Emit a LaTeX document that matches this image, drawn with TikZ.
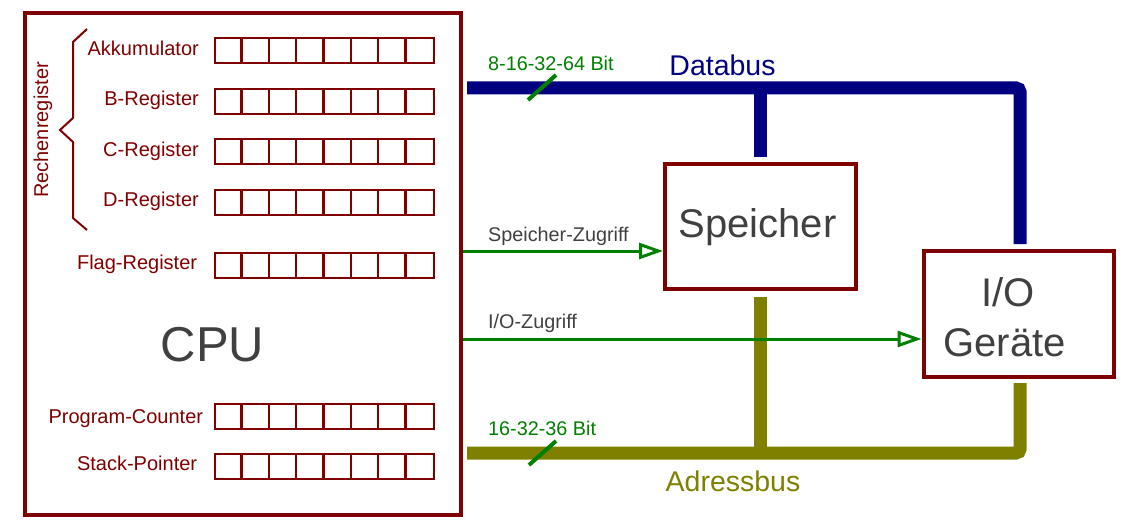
\documentclass[tikz,border=0pt]{standalone}
\usepackage{fontspec}
\setmainfont{Liberation Sans}
\usetikzlibrary{arrows.meta}
\definecolor{dred}{HTML}{800000}
\definecolor{dgray}{HTML}{404040}
\definecolor{bgreen}{HTML}{008000}
\definecolor{bnavy}{HTML}{000080}
\definecolor{bolive}{HTML}{808000}
\tikzset{
  box/.style={draw=dred, line width=4pt, inner sep=0pt, fill=white},
  regbox/.style={draw=dred, line width=2.4pt, inner sep=0pt, minimum width=219pt, minimum height=25pt, anchor=north west},
  regline/.style={draw=dred, line width=2.4pt},
  reglabel/.style={text=dred, font=\fontsize{20}{24}\selectfont, anchor=base east, inner sep=0pt},
  small/.style={font=\fontsize{19.8}{24}\selectfont, anchor=base west, inner sep=0pt},
  big/.style={text=dgray, inner sep=0pt, anchor=base},
  access/.style={draw=bgreen, line width=3pt, -{Triangle[open, length=24pt, width=16pt, line width=3pt]}},
  tick/.style={draw=bgreen, line width=4pt},
  databus/.style={draw=bnavy, line width=13pt, rounded corners=4pt},
  addrbus/.style={draw=bolive, line width=13pt, rounded corners=4pt},
}
\begin{document}
\begin{tikzpicture}[x=1pt, y=-1pt]
\useasboundingbox (0,0) rectangle (1123,521);
% boxes
\node[box, minimum width=436.5pt, minimum height=502pt] (cpu) at (242.75,264) {};
\node[box, minimum width=191pt, minimum height=124.5pt] (speicher) at (760.5,226.25) {};
\node[box, minimum width=190pt, minimum height=126pt] (io) at (1018.5,314) {};
% big texts
\node[big, font=\fontsize{49}{58}\selectfont] (cputext) at (212.5,361) {CPU};
\node[big, font=\fontsize{40}{48}\selectfont] (sptext) at (757.5,237) {Speicher};
\node[big, font=\fontsize{40}{48}\selectfont] (iotext) at (1008,306) {I/O};
\node[big, font=\fontsize{40}{48}\selectfont] (getext) at (1004.5,356) {Geräte};
% registers
\foreach \y/\n/\t/\r/\b in {37/ra/Akkumulator/199/56, 88/rb/B-Register/199/106, 138/rc/C-Register/199/156.7, 189/rd/D-Register/199/206.7, 252/rf/Flag-Register/197.3/269.3, 403/rp/Program-Counter/203.3/423.3, 453/rs/Stack-Pointer/197.3/470.7} {
  \node[regbox] (\n) at (214,\y) {};
  \foreach \i in {1,...,7} \draw[regline] (214+\i*27.375,\y) -- ++(0,25);
  \node[reglabel] (\n-l) at (\r,\b) {\t};
}
% brace
\draw[dred, line width=2pt] (87,29) -- (73,42) -- (73,118) -- (60,130) -- (73,142) -- (73,218) -- (87,230);
\node[text=dred, font=\fontsize{20}{24}\selectfont, rotate=90, anchor=base, inner sep=0pt] (rech) at (48,130) {Rechenregister};
% buses
\coordinate (db0) at (467,88);
\coordinate (dbc) at (1020,88);
\coordinate (dbj) at (760,88);
\draw[databus] (db0) -- (dbc) -- ([yshift=5pt]io.north -| dbc);
\draw[databus, rounded corners=0pt] (dbj) -- ([yshift=5pt]speicher.north -| dbj);
\coordinate (ab0) at (467,453);
\coordinate (abc) at (1020,453);
\coordinate (abj) at (760,453);
\draw[addrbus] (ab0) -- (abc) -- ([yshift=-4pt]io.south -| abc);
\draw[addrbus, rounded corners=0pt] (abj) -- ([yshift=-6pt]speicher.south -| abj);
\node[text=bnavy, font=\fontsize{28.5}{34}\selectfont, anchor=base, inner sep=0pt] (dblabel) at (722.5,76) {Databus};
\node[text=bolive, font=\fontsize{28.5}{34}\selectfont, anchor=base, inner sep=0pt] (ablabel) at (733,491) {Adressbus};
% bit widths
\coordinate (t1a) at (528,100); \coordinate (t1b) at (556,75);
\draw[tick] (t1a) -- (t1b);
\coordinate (t2a) at (529,465); \coordinate (t2b) at (556,441);
\draw[tick] (t2a) -- (t2b);
\node[small, text=bgreen] (bw1) at (488,71) {8-16-32-64 Bit};
\node[small, text=bgreen] (bw2) at (488,435.3) {16-32-36 Bit};
% accesses
\coordinate (sz) at (600,251);
\coordinate (iz) at (600,339);
\draw[access] (sz -| cpu.east) -- (sz -| speicher.west);
\draw[access] (iz -| cpu.east) -- (iz -| io.west);
\node[small, text=dgray] (szl) at (488,241) {Speicher-Zugriff};
\node[small, text=dgray] (izl) at (488,328.3) {I/O-Zugriff};
\end{tikzpicture}
\end{document}
